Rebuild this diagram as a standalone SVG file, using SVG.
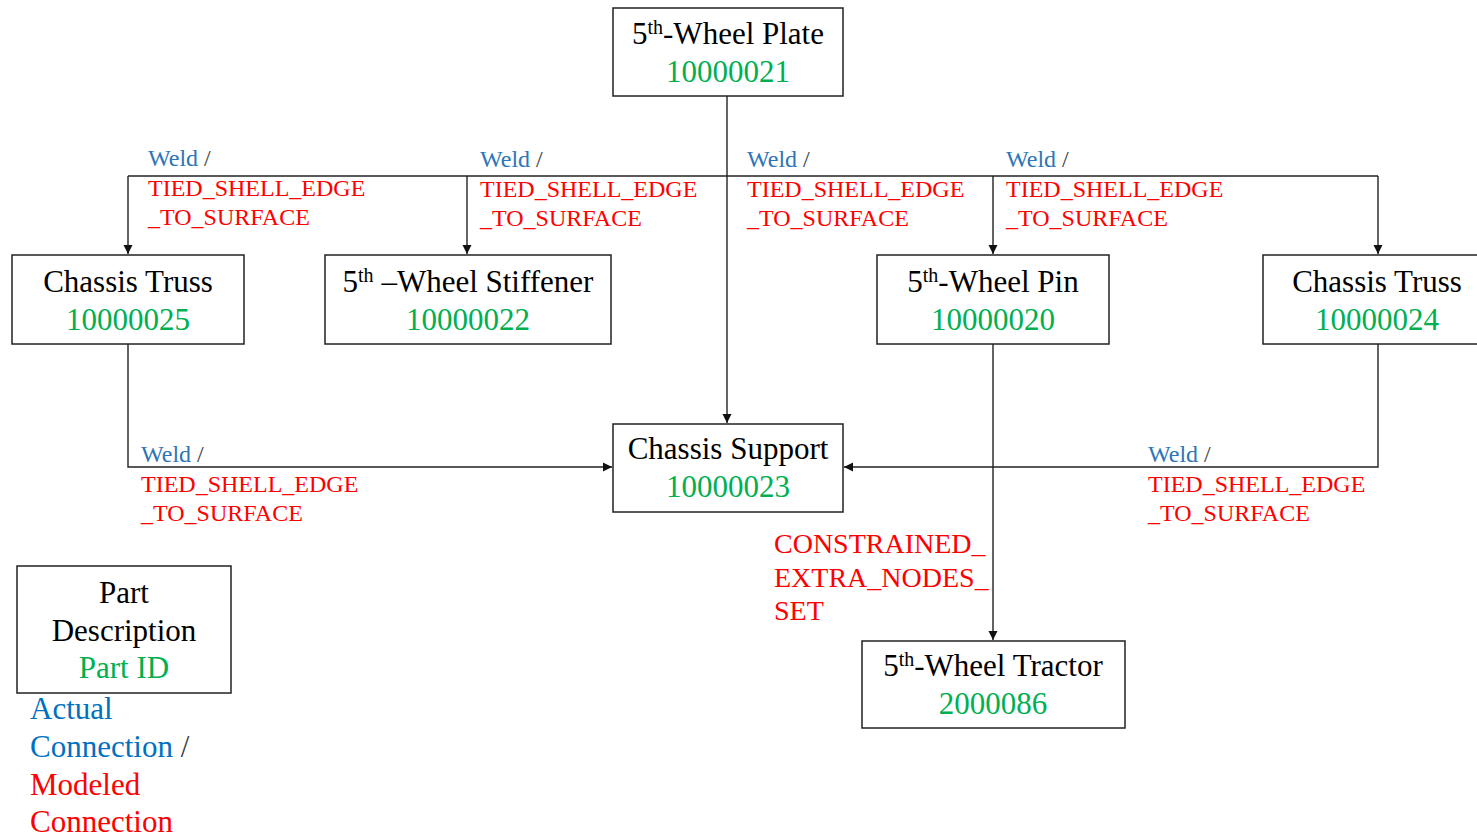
<svg xmlns="http://www.w3.org/2000/svg" width="1477" height="839" viewBox="0 0 1477 839">
<style>
.box{fill:#fff;stroke:#222;stroke-width:1.5}
.t{font-family:"Liberation Serif","Times New Roman",serif;font-size:31px;fill:#000;text-anchor:middle}
.id{fill:#00B050}
.lbl{font-family:"Liberation Serif","Times New Roman",serif;font-size:24px}
.blue{fill:#2E75B6}
.red{fill:#FF0000}
.sl{fill:#404040}
.c{fill:none;stroke:#222;stroke-width:1.4}
.leg{font-family:"Liberation Serif","Times New Roman",serif;font-size:31px}
</style>
<defs>
<marker id="ah" markerWidth="10" markerHeight="10" refX="9" refY="5" orient="auto" markerUnits="userSpaceOnUse">
<path d="M0,0.5 L9,5 L0,9.5 Z" fill="#111"/>
</marker>
</defs>
<g id="connectors">
<path class="c" d="M727,96 V423" marker-end="url(#ah)"/>
<path class="c" d="M128,176 H1378"/>
<path class="c" d="M128,176 V254" marker-end="url(#ah)"/>
<path class="c" d="M467,176 V254" marker-end="url(#ah)"/>
<path class="c" d="M993,176 V254" marker-end="url(#ah)"/>
<path class="c" d="M1378,176 V254" marker-end="url(#ah)"/>
<path class="c" d="M128,344 V467 H612" marker-end="url(#ah)"/>
<path class="c" d="M1378,344 V467 H844" marker-end="url(#ah)"/>
<path class="c" d="M993,344 V640" marker-end="url(#ah)"/>
</g>
<g id="labels">
<text class="lbl" x="148" y="166"><tspan class="blue">Weld</tspan><tspan class="sl"> /</tspan></text>
<text class="lbl red" x="148" y="196">TIED_SHELL_EDGE</text>
<text class="lbl red" x="148" y="225">_TO_SURFACE</text>
<text class="lbl" x="480" y="167"><tspan class="blue">Weld</tspan><tspan class="sl"> /</tspan></text>
<text class="lbl red" x="480" y="197">TIED_SHELL_EDGE</text>
<text class="lbl red" x="480" y="226">_TO_SURFACE</text>
<text class="lbl" x="747" y="167"><tspan class="blue">Weld</tspan><tspan class="sl"> /</tspan></text>
<text class="lbl red" x="747" y="197">TIED_SHELL_EDGE</text>
<text class="lbl red" x="747" y="226">_TO_SURFACE</text>
<text class="lbl" x="1006" y="167"><tspan class="blue">Weld</tspan><tspan class="sl"> /</tspan></text>
<text class="lbl red" x="1006" y="197">TIED_SHELL_EDGE</text>
<text class="lbl red" x="1006" y="226">_TO_SURFACE</text>
<text class="lbl" x="141" y="462"><tspan class="blue">Weld</tspan><tspan class="sl"> /</tspan></text>
<text class="lbl red" x="141" y="492">TIED_SHELL_EDGE</text>
<text class="lbl red" x="141" y="521">_TO_SURFACE</text>
<text class="lbl" x="1148" y="462"><tspan class="blue">Weld</tspan><tspan class="sl"> /</tspan></text>
<text class="lbl red" x="1148" y="492">TIED_SHELL_EDGE</text>
<text class="lbl red" x="1148" y="521">_TO_SURFACE</text>
<text class="lbl red" x="774" y="553" style="font-size:28px">CONSTRAINED_</text>
<text class="lbl red" x="774" y="587" style="font-size:28px">EXTRA_NODES_</text>
<text class="lbl red" x="774" y="620" style="font-size:28px">SET</text>
</g>
<g id="plate">
<rect class="box" x="613" y="8" width="230" height="88"/>
<text class="t" x="728" y="44">5<tspan font-size="20" dy="-10">th</tspan><tspan dy="10">-Wheel Plate</tspan></text>
<text class="t id" x="728" y="82">10000021</text>
</g>
<g id="truss25">
<rect class="box" x="12" y="255" width="232" height="89"/>
<text class="t" x="128" y="292">Chassis Truss</text>
<text class="t id" x="128" y="330">10000025</text>
</g>
<g id="stiffener">
<rect class="box" x="325" y="255" width="286" height="89"/>
<text class="t" x="468" y="292">5<tspan font-size="20" dy="-10">th</tspan><tspan dy="10"> –Wheel Stiffener</tspan></text>
<text class="t id" x="468" y="330">10000022</text>
</g>
<g id="pin">
<rect class="box" x="877" y="255" width="232" height="89"/>
<text class="t" x="993" y="292">5<tspan font-size="20" dy="-10">th</tspan><tspan dy="10">-Wheel Pin</tspan></text>
<text class="t id" x="993" y="330">10000020</text>
</g>
<g id="truss24">
<rect class="box" x="1263" y="255" width="230" height="89"/>
<text class="t" x="1377" y="292">Chassis Truss</text>
<text class="t id" x="1377" y="330">10000024</text>
</g>
<g id="support">
<rect class="box" x="613" y="424" width="230" height="88"/>
<text class="t" x="728" y="459">Chassis Support</text>
<text class="t id" x="728" y="497">10000023</text>
</g>
<g id="tractor">
<rect class="box" x="862" y="641" width="263" height="87"/>
<text class="t" x="993" y="676">5<tspan font-size="20" dy="-10">th</tspan><tspan dy="10">-Wheel Tractor</tspan></text>
<text class="t id" x="993" y="714">2000086</text>
</g>
<g id="legend">
<rect class="box" x="17" y="566" width="214" height="127"/>
<text class="t" x="124" y="603">Part</text>
<text class="t" x="124" y="641">Description</text>
<text class="t id" x="124" y="678">Part ID</text>
<text class="leg" x="30" y="719" fill="#0070C0">Actual</text>
<text class="leg" x="30" y="757"><tspan fill="#0070C0">Connection</tspan><tspan fill="#404040"> /</tspan></text>
<text class="leg" x="30" y="795" fill="#FF0000">Modeled</text>
<text class="leg" x="30" y="832" fill="#FF0000">Connection</text>
</g>
</svg>
